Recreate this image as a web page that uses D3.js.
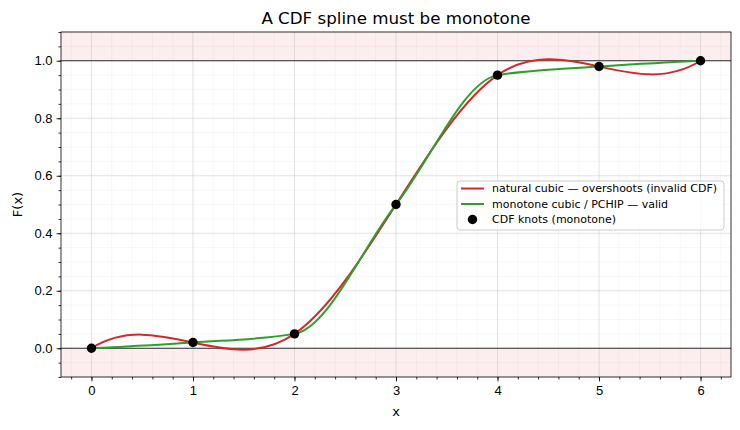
<!DOCTYPE html>
<html>
<head>
<meta charset="utf-8">
<script src="https://cdn.jsdelivr.net/npm/d3@7"></script>
<style>
  body { margin: 0; background: #fff; }
  svg { font-family: "DejaVu Sans", sans-serif; }
  .tick text { fill: #000; }
</style>
</head>
<body>
<svg id="chart" width="740" height="430"></svg>
<script>
// knots of the CDF
var knotX = [0, 1, 2, 3, 4, 5, 6];
var knotF = [0, 0.02, 0.05, 0.5, 0.95, 0.98, 1.0];
var xTicks = [0, 1, 2, 3, 4, 5, 6];
var yTicks = [0, 0.2, 0.4, 0.6, 0.8, 1.0];
var legendLabels = ["natural cubic \u2014 overshoots (invalid CDF)", "monotone cubic / PCHIP \u2014 valid", "CDF knots (monotone)"];

// d3 curve: cubic spline with not-a-knot ends (what scipy's CubicSpline does by default)
function curveNotAKnot(context) {
  var xs, ys;
  return {
    areaStart: function() {}, areaEnd: function() {},
    lineStart: function() { xs = []; ys = []; },
    point: function(px, py) { xs.push(+px); ys.push(+py); },
    lineEnd: function() {
      var n = xs.length, i, j, k;
      if (n < 4) { context.moveTo(xs[0], ys[0]); for (i = 1; i < n; i++) context.lineTo(xs[i], ys[i]); return; }
      var h = [], s = [];
      for (i = 0; i < n - 1; i++) { h.push(xs[i + 1] - xs[i]); s.push((ys[i + 1] - ys[i]) / h[i]); }
      var A = [], b = [];
      for (i = 0; i < n; i++) { A.push(new Array(n).fill(0)); b.push(0); }
      A[0][0] = h[1]; A[0][1] = -(h[0] + h[1]); A[0][2] = h[0];
      for (i = 1; i < n - 1; i++) {
        A[i][i - 1] = h[i - 1]; A[i][i] = 2 * (h[i - 1] + h[i]); A[i][i + 1] = h[i];
        b[i] = 6 * (s[i] - s[i - 1]);
      }
      A[n - 1][n - 3] = h[n - 2]; A[n - 1][n - 2] = -(h[n - 3] + h[n - 2]); A[n - 1][n - 1] = h[n - 3];
      // gaussian elimination
      for (k = 0; k < n; k++) {
        var p = k;
        for (i = k + 1; i < n; i++) if (Math.abs(A[i][k]) > Math.abs(A[p][k])) p = i;
        var t = A[k]; A[k] = A[p]; A[p] = t; t = b[k]; b[k] = b[p]; b[p] = t;
        for (i = k + 1; i < n; i++) {
          var f = A[i][k] / A[k][k];
          for (j = k; j < n; j++) A[i][j] -= f * A[k][j];
          b[i] -= f * b[k];
        }
      }
      var M = new Array(n).fill(0);
      for (i = n - 1; i >= 0; i--) {
        var acc = b[i];
        for (j = i + 1; j < n; j++) acc -= A[i][j] * M[j];
        M[i] = acc / A[i][i];
      }
      context.moveTo(xs[0], ys[0]);
      for (i = 0; i < n - 1; i++) {
        var d0 = s[i] - h[i] * (2 * M[i] + M[i + 1]) / 6,
            d1 = s[i] + h[i] * (M[i] + 2 * M[i + 1]) / 6;
        context.bezierCurveTo(xs[i] + h[i] / 3, ys[i] + d0 * h[i] / 3,
                              xs[i + 1] - h[i] / 3, ys[i + 1] - d1 * h[i] / 3,
                              xs[i + 1], ys[i + 1]);
      }
    }
  };
}

var svg = d3.select("#chart");
var margin = {top: 32, right: 9, bottom: 53, left: 61},
    width = +svg.attr("width") - margin.left - margin.right,
    height = +svg.attr("height") - margin.top - margin.bottom;

var g = svg.append("g").attr("transform", "translate(" + margin.left + "," + margin.top + ")");

var x = d3.scaleLinear().domain([-0.3, 6.3]).range([0, width]);
var y = d3.scaleLinear().domain([-0.1, 1.1]).range([height, 0]);

var knots = knotX.map(function(d, i) { return {x: d, f: knotF[i]}; });

// invalid region bands
g.append("rect").attr("x", 0).attr("width", width)
  .attr("y", y(1.1)).attr("height", y(1) - y(1.1))
  .attr("fill", "#d62728").attr("fill-opacity", 0.08);
g.append("rect").attr("x", 0).attr("width", width)
  .attr("y", y(0)).attr("height", y(-0.1) - y(0))
  .attr("fill", "#d62728").attr("fill-opacity", 0.08);

// grid, minor then major
var xMinor = d3.range(-0.2, 6.3, 0.2), yMinor = d3.range(-0.1, 1.1001, 0.05);
g.append("g").selectAll("line").data(xMinor).enter().append("line")
  .attr("x1", function(d) { return x(d); }).attr("x2", function(d) { return x(d); })
  .attr("y1", 0).attr("y2", height)
  .attr("stroke", "#000").attr("stroke-opacity", 0.06).attr("stroke-width", 0.6);
g.append("g").selectAll("line").data(yMinor).enter().append("line")
  .attr("y1", function(d) { return y(d); }).attr("y2", function(d) { return y(d); })
  .attr("x1", 0).attr("x2", width)
  .attr("stroke", "#000").attr("stroke-opacity", 0.06).attr("stroke-width", 0.6);
g.append("g").selectAll("line").data(xTicks).enter().append("line")
  .attr("x1", function(d) { return x(d); }).attr("x2", function(d) { return x(d); })
  .attr("y1", 0).attr("y2", height)
  .attr("stroke", "#b0b0b0").attr("stroke-opacity", 0.35).attr("stroke-width", 0.8);
g.append("g").selectAll("line").data(yTicks).enter().append("line")
  .attr("y1", function(d) { return y(d); }).attr("y2", function(d) { return y(d); })
  .attr("x1", 0).attr("x2", width)
  .attr("stroke", "#b0b0b0").attr("stroke-opacity", 0.35).attr("stroke-width", 0.8);

// reference lines at 0 and 1
[0, 1].forEach(function(v) {
  g.append("line").attr("x1", 0).attr("x2", width)
    .attr("y1", y(v)).attr("y2", y(v))
    .attr("stroke", "#000").attr("stroke-width", 0.8);
});

// splines through the knots
var natural = d3.line().x(function(d) { return x(d.x); }).y(function(d) { return y(d.f); }).curve(curveNotAKnot);
var mono = d3.line().x(function(d) { return x(d.x); }).y(function(d) { return y(d.f); }).curve(d3.curveMonotoneX);

g.append("path").datum(knots).attr("d", natural)
  .attr("fill", "none").attr("stroke", "#d62728").attr("stroke-width", 2);
g.append("path").datum(knots).attr("d", mono)
  .attr("fill", "none").attr("stroke", "#2ca02c").attr("stroke-width", 2);

g.selectAll(".knot").data(knots).enter().append("circle")
  .attr("class", "knot")
  .attr("cx", function(d) { return x(d.x); })
  .attr("cy", function(d) { return y(d.f); })
  .attr("r", 4.7).attr("fill", "#000");

// axes
var xAxis = g.append("g").attr("transform", "translate(0," + height + ")")
  .call(d3.axisBottom(x).tickValues(xTicks).tickFormat(d3.format("d")).tickSize(4.5).tickPadding(4));
var xAxisMinor = g.append("g").attr("transform", "translate(0," + height + ")")
  .call(d3.axisBottom(x).tickValues(xMinor).tickFormat("").tickSize(2.5));
var yAxis = g.append("g")
  .call(d3.axisLeft(y).tickValues(yTicks).tickFormat(d3.format(".1f")).tickSize(4.5).tickPadding(4));
var yAxisMinor = g.append("g")
  .call(d3.axisLeft(y).tickValues(yMinor).tickFormat("").tickSize(2.5));

[xAxis, yAxis, xAxisMinor, yAxisMinor].forEach(function(a) {
  a.select(".domain").remove();
  a.selectAll("line").attr("stroke", "#000").attr("stroke-width", 0.8);
  a.selectAll("text").style("font-size", "13px");
});

// frame
g.append("rect").attr("width", width).attr("height", height)
  .attr("fill", "none").attr("stroke", "#000").attr("stroke-width", 0.8);

// labels
svg.append("text").attr("x", margin.left + width / 2).attr("y", 24)
  .attr("text-anchor", "middle").style("font-size", "16.7px").text("A CDF spline must be monotone");
svg.append("text").attr("x", margin.left + width / 2).attr("y", 416)
  .attr("text-anchor", "middle").style("font-size", "13px").text("x");
svg.append("text").attr("transform", "translate(22," + (margin.top + height / 2) + ") rotate(-90)")
  .attr("text-anchor", "middle").style("font-size", "13px").text("F(x)");

// legend
var legend = g.append("g").attr("transform", "translate(" + (457 - margin.left) + "," + (181 - margin.top) + ")");
legend.append("rect").attr("width", 267).attr("height", 49).attr("rx", 3)
  .attr("fill", "#fff").attr("fill-opacity", 0.8).attr("stroke", "#ccc").attr("stroke-width", 1);
var item = legend.selectAll(".item").data(legendLabels).enter().append("g")
  .attr("class", "item")
  .attr("transform", function(d, i) { return "translate(0," + (7.5 + i * 15.5) + ")"; })
  .style("font-size", "11px");
item.filter(function(d, i) { return i < 2; }).append("line")
  .attr("x1", 4).attr("x2", 27).attr("y1", 0).attr("y2", 0)
  .attr("stroke", function(d, i) { return i === 0 ? "#d62728" : "#2ca02c"; }).attr("stroke-width", 2);
item.filter(function(d, i) { return i === 2; }).append("circle")
  .attr("cx", 15.5).attr("cy", 0).attr("r", 4.7).attr("fill", "#000");
item.append("text").attr("x", 35).attr("y", 0).attr("dy", "0.35em").text(function(d) { return d; });
</script>
</body>
</html>
